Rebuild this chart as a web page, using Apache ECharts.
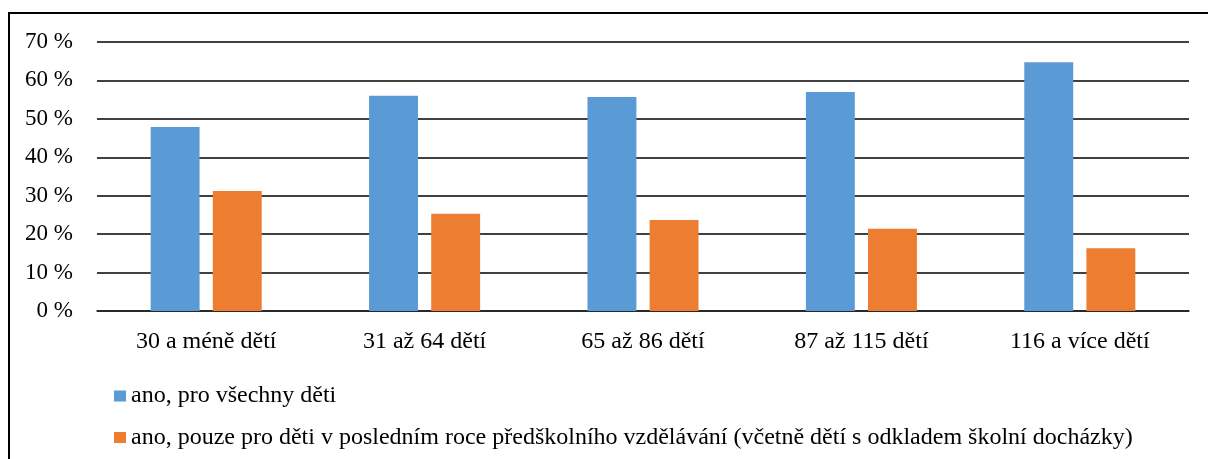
<!DOCTYPE html>
<html>
<head>
<meta charset="utf-8">
<script src="https://cdn.jsdelivr.net/npm/echarts@6/dist/echarts.min.js"></script>
<style>
  html, body { margin: 0; padding: 0; background: #fff; }
  #chart { width: 1208px; height: 459px; }
</style>
</head>
<body>
<div id="chart"></div>
<script>
var categories = ['30 a méně dětí', '31 až 64 dětí', '65 až 86 dětí', '87 až 115 dětí', '116 a více dětí'];
var allChildren = [47.9, 56.0, 55.7, 57.0, 64.7];
var lastYearOnly = [31.2, 25.3, 23.7, 21.4, 16.3];
var seriesNames = [
    'ano, pro všechny děti',
    'ano, pouze pro děti v posledním roce předškolního vzdělávání (včetně dětí s odkladem školní docházky)'
];

var chart = echarts.init(document.getElementById('chart'));
var font = '"Liberation Serif", "Times New Roman", serif';

var option = {
    backgroundColor: '#fff',
    animation: false,
    textStyle: { fontFamily: font },
    // outer frame, right and bottom edges fall outside the picture
    graphic: [{
        type: 'rect',
        shape: { x: 9, y: 13, width: 1220, height: 470 },
        style: { fill: 'none', stroke: '#000', lineWidth: 2 }
    }],
    grid: { left: 97, right: 19, top: 42, bottom: 148 },
    legend: {
        orient: 'vertical',
        left: 109,
        top: 379,
        itemGap: 17.5,
        itemWidth: 12,
        itemHeight: 11,
        icon: 'rect',
        textStyle: { fontFamily: font, fontSize: 24, lineHeight: 24, color: '#000' },
        data: seriesNames
    },
    xAxis: {
        type: 'category',
        data: categories,
        axisTick: { show: false },
        axisLine: { lineStyle: { color: '#222', width: 1.5 } },
        axisLabel: { fontFamily: font, fontSize: 24, color: '#000', margin: 19 }
    },
    yAxis: {
        type: 'value',
        min: 0,
        max: 70,
        interval: 10,
        axisLine: { show: false },
        axisTick: { show: false },
        splitLine: { lineStyle: { color: '#000', width: 1.5 } },
        axisLabel: {
            fontFamily: font, fontSize: 23, color: '#000', margin: 24,
            formatter: '{value} %'
        }
    },
    series: [{
        name: seriesNames[0],
        type: 'bar',
        barWidth: '22.4%',
        barGap: '27%',
        itemStyle: { color: '#5B9BD5' },
        data: allChildren
    }, {
        name: seriesNames[1],
        type: 'bar',
        barWidth: '22.4%',
        itemStyle: { color: '#ED7D31' },
        data: lastYearOnly
    }]
};

chart.setOption(option);
</script>
</body>
</html>
